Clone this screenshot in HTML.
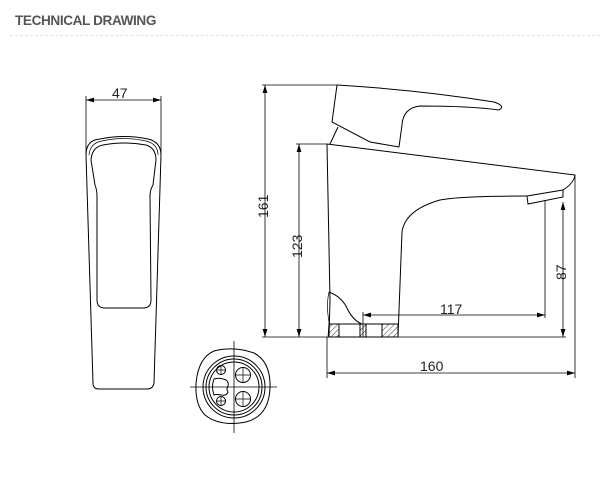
<!DOCTYPE html>
<html><head><style>
body{margin:0;background:#fff;width:600px;height:495px;overflow:hidden;position:relative;font-family:"Liberation Sans",sans-serif}
.t{position:absolute;left:15px;top:12px;font-weight:bold;font-size:14px;color:#555;letter-spacing:-0.4px;transform:scaleX(0.97);transform-origin:left}
.d{position:absolute;left:10px;top:35px;width:590px;border-top:1px dashed #e2e2e2}
</style></head><body>
<div class="t">TECHNICAL DRAWING</div><div class="d"></div>
<svg width="600" height="495" style="position:absolute;left:0;top:0" fill="none" stroke="#000" stroke-width="1">
<defs><marker id="a" markerWidth="10" markerHeight="6" refX="10" refY="3" orient="auto-start-reverse"><path d="M0,0L10,3L0,6z" fill="#000" stroke="none"/></marker>
<pattern id="h" width="4" height="4" patternUnits="userSpaceOnUse" patternTransform="rotate(45)"><line x1="0" y1="0" x2="0" y2="4" stroke="#000" stroke-width="0.8"/></pattern></defs>
<g font-family="Liberation Sans" font-size="14" fill="#222" stroke="none">
<text x="112" y="98">47</text>
<text transform="translate(268,218) rotate(-90)">161</text>
<text transform="translate(302,258) rotate(-90)">123</text>
<text transform="translate(566,280) rotate(-90)">87</text>
<text x="440" y="314">117</text>
<text x="420" y="371">160</text>
</g>
<!-- front view -->
<line x1="86" y1="100" x2="161" y2="100" marker-start="url(#a)" marker-end="url(#a)" stroke-width="0.8"/>
<line x1="86" y1="96" x2="86" y2="155" stroke-width="0.8"/><line x1="161" y1="96" x2="161" y2="155" stroke-width="0.8"/>
<path d="M86,155 Q86,140 100,139 Q124,134 148,139 Q161,142 161,155 L154,383 Q153,389 147,389 L99,389 Q93,389 93,383 Z"/>
<path d="M89,155 Q90,143 102,141 Q124,136 146,141 Q158,144 158,155" stroke-width="0.7"/>
<path d="M91,160 Q92,147 103,145 Q124,141 146,145 Q156,148 156,160 L153,185 Q150,190 150,196 L151,300 Q151,308 143,308 L105,308 Q97,308 97,300 L97,196 Q97,190 95,185 Z"/>
<!-- bottom view -->
<line x1="234" y1="341" x2="234" y2="433" stroke-width="0.8"/>
<line x1="190" y1="387" x2="277" y2="387" stroke-width="0.8"/>
<path d="M214,351 Q234,346 254,353 Q271,362 270,388 Q269,416 246,422 Q220,427 205,415 Q195,405 196,384 Q198,358 214,351Z"/>
<circle cx="234" cy="387" r="31"/><circle cx="234" cy="387" r="28"/><circle cx="234" cy="387" r="25"/>
<circle cx="221" cy="370" r="4.5"/><path d="M216.5,370h9M221,365.5v9" stroke-width="0.7"/>
<circle cx="221" cy="401" r="4.5"/><path d="M216.5,401h9M221,396.5v9" stroke-width="0.7"/>
<circle cx="243" cy="375" r="7.5"/><path d="M235.5,375h15M243,367.5v15" stroke-width="0.7"/>
<circle cx="243" cy="399" r="7.5"/><path d="M235.5,399h15M243,391.5v15" stroke-width="0.7"/>
<path d="M214,379 Q220,377 226,380 Q229,382 228,386 Q226,389 228,392 Q227,396 221,395 Q216,394 214,395 Q211,387 214,379Z"/>
<!-- side view dims -->
<g stroke-width="0.8">
<line x1="265" y1="85" x2="265" y2="337" marker-start="url(#a)" marker-end="url(#a)"/>
<line x1="262" y1="85" x2="338" y2="85"/>
<line x1="262" y1="337" x2="566" y2="337"/>
<line x1="299" y1="144" x2="299" y2="337" marker-start="url(#a)" marker-end="url(#a)"/>
<line x1="296" y1="144" x2="328" y2="144"/>
<line x1="563" y1="202" x2="563" y2="337" marker-start="url(#a)" marker-end="url(#a)"/>
<line x1="545" y1="200" x2="545" y2="318"/>
<line x1="363" y1="315" x2="545" y2="315" marker-start="url(#a)" marker-end="url(#a)"/>
<line x1="363" y1="312" x2="363" y2="337"/>
<line x1="327" y1="373" x2="575" y2="373" marker-start="url(#a)" marker-end="url(#a)"/>
<line x1="327" y1="337" x2="327" y2="378"/>
<line x1="575" y1="175" x2="575" y2="378"/>
</g>
<!-- side body -->
<path d="M327,144 L575,175 Q574,183 563,190"/>
<path d="M327,144 L330,300 L329,337"/>
<path d="M527,196 L563,190 L563,197 L528,204 Z"/>
<path d="M527,196 Q460,196 440,200 Q405,210 402,232 L398,337"/>
<path d="M337,85 Q420,90 494,102 Q506,106 499,110 Q470,106 420,106 Q403,108 402,125 L399,147"/>
<path d="M337,85 L332,122 L370,142 L399,147"/>
<path d="M338,127 L330,144"/>
<path d="M329,292 Q340,296 346,306 Q352,320 362,324"/>
<path d="M329,292 Q326,305 329,322 L328,337" stroke-width="0.7"/>
<rect x="329" y="324" width="10" height="13" fill="url(#h)"/>
<rect x="339" y="324" width="21" height="13"/>
<rect x="360" y="324" width="6" height="13" fill="url(#h)"/>
<rect x="366" y="324" width="16" height="13"/>
<rect x="382" y="324" width="16" height="13" fill="url(#h)"/>
</svg>
</body></html>
